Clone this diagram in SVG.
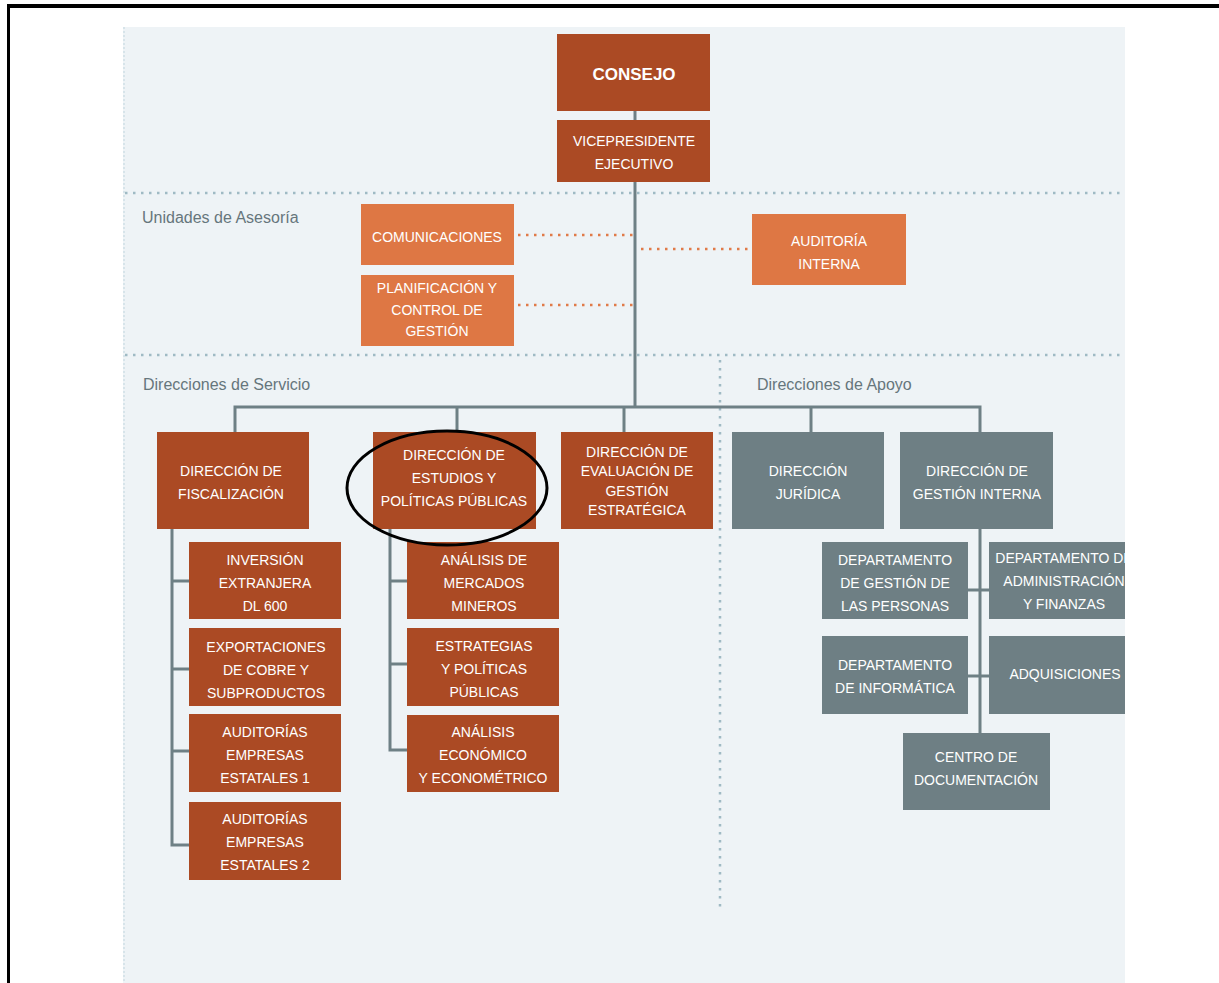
<svg xmlns="http://www.w3.org/2000/svg" width="1219" height="983" viewBox="0 0 1219 983">
<defs>
<style>
.bg{fill:#eef3f6}
.d{fill:#ab4a24}
.l{fill:#de7744}
.g{fill:#6e7f84}
.t{font-family:"Liberation Sans",Arial,sans-serif;font-size:14px;fill:#ffffff;text-anchor:middle}
.b{font-weight:bold;font-size:17px}
.lab{font-family:"Liberation Sans",Arial,sans-serif;font-size:16px;fill:#66767c}
.c{stroke:#6e8085;stroke-width:3;fill:none}
.dot{stroke:#e07a48;stroke-width:2.5;stroke-dasharray:2.5 5.5;fill:none}
.sep{stroke:#9fbac4;stroke-width:2.5;stroke-dasharray:2.5 5.5;fill:none}
</style>
<clipPath id="panel"><rect x="123" y="27" width="1002" height="956"/></clipPath>
</defs>
<rect width="1219" height="983" fill="#ffffff"/>
<rect x="7" y="4" width="1212" height="4" fill="#000000"/>
<rect x="7" y="4" width="3" height="979" fill="#000000"/>
<rect class="bg" x="123" y="27" width="1002" height="956"/>
<line x1="124" y1="27" x2="124" y2="983" stroke="#cfe0e6" stroke-width="1.5" stroke-dasharray="2 2"/>
<g id="separators">
<line class="sep" x1="125" y1="193" x2="1125" y2="193"/>
<line class="sep" x1="125" y1="355" x2="1125" y2="355"/>
<line class="sep" x1="720" y1="360" x2="720" y2="908"/>
</g>
<text class="lab" x="142" y="223">Unidades de Asesoría</text>
<text class="lab" x="143" y="390">Direcciones de Servicio</text>
<text class="lab" x="757" y="390">Direcciones de Apoyo</text>
<g id="connectors">
<line class="c" x1="635" y1="111" x2="635" y2="408"/>
<polyline class="c" points="235,432 235,407 980,407 980,432"/>
<line class="c" x1="457" y1="407" x2="457" y2="432"/>
<line class="c" x1="624" y1="407" x2="624" y2="432"/>
<line class="c" x1="811" y1="407" x2="811" y2="432"/>
<polyline class="c" points="172,529 172,845 189,845"/>
<line class="c" x1="172" y1="581" x2="189" y2="581"/>
<line class="c" x1="172" y1="669" x2="189" y2="669"/>
<line class="c" x1="172" y1="751" x2="189" y2="751"/>
<polyline class="c" points="390,529 390,750 407,750"/>
<line class="c" x1="390" y1="581" x2="407" y2="581"/>
<line class="c" x1="390" y1="664" x2="407" y2="664"/>
<line class="c" x1="980" y1="529" x2="980" y2="733"/>
<line class="c" x1="968" y1="590" x2="989" y2="590"/>
<line class="c" x1="968" y1="676" x2="989" y2="676"/>
<line class="dot" x1="518" y1="235" x2="635" y2="235"/>
<line class="dot" x1="518" y1="305" x2="635" y2="305"/>
<line class="dot" x1="641" y1="249" x2="750" y2="249"/>
</g>
<g id="consejo"><rect class="d" x="557" y="34" width="153" height="77"/><text class="t b" x="634" y="80">CONSEJO</text></g>
<g id="vicepresidente"><rect class="d" x="557" y="120" width="153" height="62"/><text class="t" x="634" y="146">VICEPRESIDENTE</text><text class="t" x="634" y="169">EJECUTIVO</text></g>
<g id="comunicaciones"><rect class="l" x="361" y="204" width="153" height="61"/><text class="t" x="437" y="242">COMUNICACIONES</text></g>
<g id="planificacion"><rect class="l" x="361" y="275" width="153" height="71"/><text class="t" x="437" y="293">PLANIFICACIÓN Y</text><text class="t" x="437" y="315">CONTROL DE</text><text class="t" x="437" y="336">GESTIÓN</text></g>
<g id="auditoria-interna"><rect class="l" x="752" y="214" width="154" height="71"/><text class="t" x="829" y="246">AUDITORÍA</text><text class="t" x="829" y="269">INTERNA</text></g>
<g id="fiscalizacion"><rect class="d" x="157" y="432" width="152" height="97"/><text class="t" x="231" y="476">DIRECCIÓN DE</text><text class="t" x="231" y="499">FISCALIZACIÓN</text></g>
<g id="estudios"><rect class="d" x="373" y="432" width="163" height="97"/><text class="t" x="454" y="460">DIRECCIÓN DE</text><text class="t" x="454" y="483">ESTUDIOS Y</text><text class="t" x="454" y="506">POLÍTICAS PÚBLICAS</text></g>
<g id="evaluacion"><rect class="d" x="561" y="432" width="152" height="97"/><text class="t" x="637" y="457">DIRECCIÓN DE</text><text class="t" x="637" y="476">EVALUACIÓN DE</text><text class="t" x="637" y="496">GESTIÓN</text><text class="t" x="637" y="515">ESTRATÉGICA</text></g>
<g id="juridica"><rect class="g" x="732" y="432" width="152" height="97"/><text class="t" x="808" y="476">DIRECCIÓN</text><text class="t" x="808" y="499">JURÍDICA</text></g>
<g id="gestion-interna"><rect class="g" x="900" y="432" width="153" height="97"/><text class="t" x="977" y="476">DIRECCIÓN DE</text><text class="t" x="977" y="499">GESTIÓN INTERNA</text></g>
<g id="inversion"><rect class="d" x="189" y="542" width="152" height="77"/><text class="t" x="265" y="565">INVERSIÓN</text><text class="t" x="265" y="588">EXTRANJERA</text><text class="t" x="265" y="611">DL 600</text></g>
<g id="exportaciones"><rect class="d" x="189" y="628" width="152" height="78"/><text class="t" x="266" y="652">EXPORTACIONES</text><text class="t" x="266" y="675">DE COBRE Y</text><text class="t" x="266" y="698">SUBPRODUCTOS</text></g>
<g id="auditorias1"><rect class="d" x="189" y="714" width="152" height="78"/><text class="t" x="265" y="737">AUDITORÍAS</text><text class="t" x="265" y="760">EMPRESAS</text><text class="t" x="265" y="783">ESTATALES 1</text></g>
<g id="auditorias2"><rect class="d" x="189" y="802" width="152" height="78"/><text class="t" x="265" y="824">AUDITORÍAS</text><text class="t" x="265" y="847">EMPRESAS</text><text class="t" x="265" y="870">ESTATALES 2</text></g>
<g id="mercados"><rect class="d" x="407" y="542" width="152" height="77"/><text class="t" x="484" y="565">ANÁLISIS DE</text><text class="t" x="484" y="588">MERCADOS</text><text class="t" x="484" y="611">MINEROS</text></g>
<g id="estrategias"><rect class="d" x="407" y="628" width="152" height="78"/><text class="t" x="484" y="651">ESTRATEGIAS</text><text class="t" x="484" y="674">Y POLÍTICAS</text><text class="t" x="484" y="697">PÚBLICAS</text></g>
<g id="economico"><rect class="d" x="407" y="715" width="152" height="77"/><text class="t" x="483" y="737">ANÁLISIS</text><text class="t" x="483" y="760">ECONÓMICO</text><text class="t" x="483" y="783">Y ECONOMÉTRICO</text></g>
<g id="personas"><rect class="g" x="822" y="542" width="146" height="77"/><text class="t" x="895" y="565">DEPARTAMENTO</text><text class="t" x="895" y="588">DE GESTIÓN DE</text><text class="t" x="895" y="611">LAS PERSONAS</text></g>
<g id="finanzas" clip-path="url(#panel)"><rect class="g" x="989" y="542" width="160" height="77"/><text class="t" x="1064" y="563">DEPARTAMENTO DE</text><text class="t" x="1064" y="586">ADMINISTRACIÓN</text><text class="t" x="1064" y="609">Y FINANZAS</text></g>
<g id="informatica"><rect class="g" x="822" y="636" width="146" height="78"/><text class="t" x="895" y="670">DEPARTAMENTO</text><text class="t" x="895" y="693">DE INFORMÁTICA</text></g>
<g id="adquisiciones" clip-path="url(#panel)"><rect class="g" x="989" y="636" width="160" height="78"/><text class="t" x="1065" y="679">ADQUISICIONES</text></g>
<g id="documentacion"><rect class="g" x="903" y="733" width="147" height="77"/><text class="t" x="976" y="762">CENTRO DE</text><text class="t" x="976" y="785">DOCUMENTACIÓN</text></g>
<ellipse cx="447" cy="488" rx="100" ry="57" fill="none" stroke="#000000" stroke-width="3"/>
</svg>
